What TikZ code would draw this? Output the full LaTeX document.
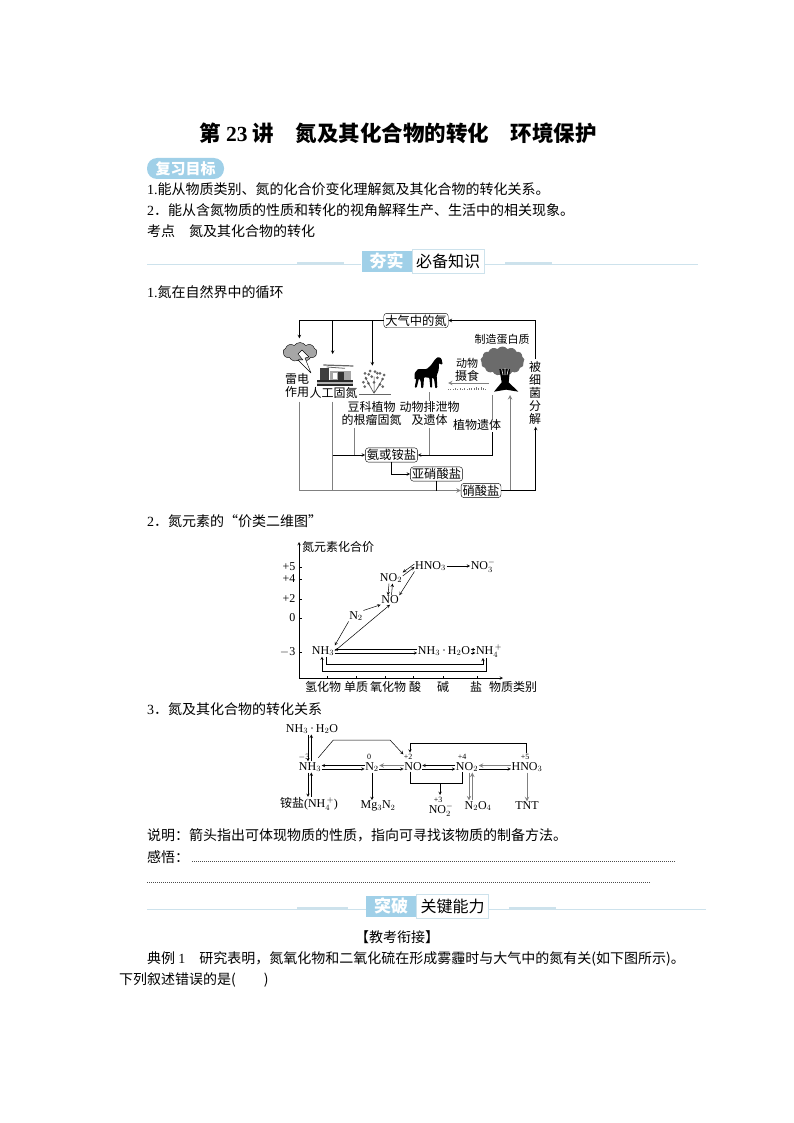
\documentclass[tikz,border=0pt]{standalone}
\usepackage{fontspec}
\setmainfont{Liberation Serif}
\newfontfamily\cjk{Noto Sans CJK SC}
\newfontfamily\lat{Liberation Serif}
\usetikzlibrary{arrows,positioning,calc,shapes.symbols}
\definecolor{bannerblue}{RGB}{160,208,232}
\definecolor{rulecolor}{RGB}{205,226,236}
\tikzset{
  >=stealth,
  body/.style    = {anchor=west, inner sep=0pt, font=\cjk\fontsize{14}{16}\selectfont},
  post/.style    = {->, semithick},
  react/.style   = {->, line width=0.5pt},
  wire/.style    = {semithick},
  graywire/.style= {draw=black!50, line width=1pt},
  label/.style   = {inner sep=0pt, align=center, font=\cjk\fontsize{12}{13}\selectfont},
  saltbox/.style = {draw, rounded corners=3pt, fill=white, inner sep=1.5pt, font=\cjk\fontsize{12.3}{14}\selectfont},
  chem/.style    = {inner sep=0.5pt, font=\lat\fontsize{12}{14}\selectfont},
  oxi/.style     = {inner sep=0pt, font=\lat\fontsize{8}{8}\selectfont},
  axislabel/.style = {inner sep=0pt, font=\cjk\fontsize{12}{14}\selectfont},
  bannerl/.style = {fill=bannerblue, text=white, inner sep=0pt, minimum width=50pt, minimum height=21pt, font=\cjk\bfseries\fontsize{17}{18}\selectfont},
  bannerr/.style = {draw=rulecolor, fill=white, inner sep=0pt, minimum width=72pt, minimum height=24pt, font=\cjk\fontsize{16}{18}\selectfont},
  rule/.style    = {draw=rulecolor, line width=0.7pt},
  rulethick/.style = {draw=rulecolor, line width=1.2pt},
  answerline/.style = {draw=black!70, line width=0.4pt, dash pattern=on 1pt off 1pt},
  detour/.style  = {to path={-- ++(0,#1) -| (\tikztotarget)}}
}
\begin{document}
\begin{tikzpicture}[x=1pt,y=-1pt]
  \useasboundingbox (0,0) rectangle (794,1123);

  % heading and first lines
  \node[inner sep=0pt, font=\cjk\bfseries\fontsize{21.5}{24}\selectfont] (title) at (398,133)
    {第\hspace{5pt}{\lat 23}\hspace{5pt}讲　氮及其化合物的转化　环境保护};
  \node[fill=bannerblue, text=white, rounded corners=10pt, minimum width=77pt, minimum height=21pt, inner sep=0pt, font=\cjk\bfseries\fontsize{15}{16}\selectfont] (goal) at (185.5,168.5) {复习目标};
  \node[body] (line1) at (147,189) {{\lat 1.}能从物质类别、氮的化合价变化理解氮及其化合物的转化关系。};
  \node[body] (line2) at (147,210) {{\lat 2}．能从含氮物质的性质和转化的视角解释生产、生活中的相关现象。};
  \node[body] (line3) at (147,231) {考点　氮及其化合物的转化};

  \node[bannerr] (knowr) at (448,261) {必备知识};
  \node[bannerl, left=0pt of knowr] (knowl) {夯实};
  \coordinate (knowa) at (147,264);
  \coordinate (knowb) at (698,264);
  \coordinate (knowc) at (297,263);
  \coordinate (knowd) at (552,263);
  \coordinate (knowe) at (344,263);
  \coordinate (knowf) at (505,263);
  \draw[rule] (knowa) -- (knowa -| knowl.west);
  \draw[rule] (knowb) -- (knowb -| knowr.east);
  \draw[rulethick] (knowc) -- (knowe);
  \draw[rulethick] (knowf) -- (knowd);

  \node[body] (head1) at (147,292) {{\lat 1.}氮在自然界中的循环};

  % nitrogen cycle
  \node[saltbox] (air)      at (416,320.5) {大气中的氮};
  \node[saltbox] (ammonium) at (391.5,455) {氨或铵盐};
  \node[saltbox] (nitrite)  at (436.5,474) {亚硝酸盐};
  \node[saltbox] (nitrate)  at (481,490.5) {硝酸盐};

  \node[label] (lei)     at (297,385)   {雷电\\作用};
  \node[label] (fix)     at (333.5,393) {人工固氮};
  \node[label] (bean)    at (371.5,413.5) {豆科植物\\的根瘤固氮};
  \node[label] (waste)   at (429.5,413.5) {动物排泄物\\及遗体};
  \node[label] (remain)  at (477,425)   {植物遗体};
  \node[label] (protein) at (502,339) {\fontsize{11}{12}\selectfont 制造蛋白质};
  \node[label] (eat)     at (467,370) {\fontsize{11}{14}\selectfont 动物\\摄食};
  \node[label] (decay)   at (535,393) {被\\细\\菌\\分\\解};

  \begin{scope}[shift={(270,305)},scale=1/3]
    \coordinate (leiin)   at (88,100);
    \coordinate (fixin)   at (188,147);
    \coordinate (beanin)  at (307,182);
    \coordinate (leifoot) at (88,290);
    \coordinate (fixfoot) at (188,290);
    \coordinate (beanfoot) at (252,370);
    \coordinate (horsefoot) at (477,262);
    \coordinate (wastefoot) at (477,368);
    \coordinate (treefoot) at (668,270);
    \coordinate (remainfoot) at (668,382);
    \coordinate (rootin)  at (720,270);
    \coordinate (decayin) at (797,365);
    \coordinate (decaytop) at (797,162);
  \end{scope}
  \coordinate (eatfrom) at (489,383);
  \coordinate (eatto)   at (448,383);

  \draw[post] (air.west) -| (leiin);
  \draw[post] (fixin |- air) -- (fixin);
  \draw[post] (beanin |- air) -- (beanin);
  \draw[post] (decaytop) |- (air.east);
  \draw[graywire, ->] (eatfrom) -- (eatto);
  \draw[graywire, ->] (leifoot) |- (nitrate.west);
  \draw[graywire] (fixfoot) -- (fixfoot |- nitrate.west);
  \draw[post] (fixfoot |- ammonium) -- (ammonium.west);
  \draw[graywire] (beanfoot) -- (beanfoot |- ammonium);
  \draw[graywire] (horsefoot) -- (horsefoot |- waste.north);
  \draw[graywire] (wastefoot) -- (wastefoot |- ammonium);
  \draw[graywire] (treefoot) -- (treefoot |- remain.north);
  \draw[post] (remainfoot) |- (ammonium.east);
  \draw[post] (ammonium.south) |- (nitrite.west);
  \draw[wire] (nitrite.south) -- (nitrite.south |- nitrate.west);
  \draw[graywire, ->] (nitrate.east) -| (rootin);
  \draw[post] (nitrate.east) -| (decayin);

  % cloud and bolt
  \node[cloud, cloud puffs=9, cloud puff arc=110, aspect=1.9, draw, fill=black!35, minimum width=34pt, minimum height=19pt, inner sep=0pt] (cloudicon) at (300,352) {};
  \draw[fill=white, line join=bevel] (302,350) -- (309,357) -- (305,358) -- (311,373) -- (298,360) -- (303,360) -- (298,354) -- cycle;

  % factory
  \begin{scope}[shift={(270,305)},scale=1/3]
    \fill[black!75] (150,190) rectangle (178,225);
    \fill[black!35] (180,198) rectangle (242,225);
    \fill[black!80] (205,200) rectangle (222,225);
    \fill[white] (190,205) rectangle (200,222);
    \draw[line width=1.2pt, black!60] (160,180) -- (250,183);
    \draw[line width=0.8pt, black!60] (170,186) -- (225,190);
    \fill[black!85] (140,224) rectangle (250,230);
    \fill[black!30] (140,230) rectangle (250,236);
    \fill[black!85] (140,236) rectangle (250,244);
  \end{scope}

  % plant
  \begin{scope}[shift={(270,305)},scale=1/3]
    \foreach \px/\py in {285/205,300/198,315/200,330/205,288/220,305/215,322/218,338/222,295/235,312/232,330/238,280/232,296/208,322/205,342/210,284/245,338/245}
      \fill[black!60] (\px,\py) circle (4.5pt);
    \draw[black!70, line width=0.5pt] (312,265) -- (295,235) (312,265) -- (312,215) (312,265) -- (330,238) (312,265) -- (285,215) (312,265) -- (338,222);
    \draw[black!60, line width=0.5pt] (268,268) -- (362,268);
  \end{scope}

  % horse
  \begin{scope}[shift={(410,345)},scale=1/3]
    \fill[black, rounded corners=0.8pt] (84,36) -- (94,40) -- (98,58) -- (91,58) -- (87,54) -- (86,76) -- (80,92) -- (82,128) -- (76,130) -- (72,102) -- (66,97) -- (66,128) -- (61,128) -- (58,98) -- (42,97) -- (40,128) -- (34,130) -- (32,108) -- (27,100) -- (20,128) -- (14,128) -- (19,100) -- (14,104) -- (14,84) -- (24,72) -- (50,72) -- (62,62) -- (76,42) -- cycle;
  \end{scope}

  % tree and grass
  \node[cloud, cloud puffs=13, cloud puff arc=110, aspect=1.5, fill=black!58, minimum width=44pt, minimum height=29pt, inner sep=0pt] (treetop) at (502.5,361) {};
  \begin{scope}[shift={(410,345)},scale=1/3]
    \fill[black] (268,72) -- (300,72) -- (296,112) -- (325,140) -- (288,134) -- (252,140) -- (275,112) -- cycle;
    \draw[white, line width=0.6pt] (275,72) -- (279,90) (285,70) -- (285,90) (295,72) -- (291,90);
    \foreach \gx/\gh in {115/2,122/3,129/2,136/4,143/2,150/4,157/3,164/5,171/3,178/5,185/6,192/4,199/7,206/5,213/7,220/4,227/3}
      \draw[black!55, line width=0.4pt] (\gx,134) -- ++(0,-\gh);
  \end{scope}

  \node[body] (head2) at (147,521) {{\lat 2}．氮元素的“价类二维图”};

  % valence chart
  \coordinate (origin) at (299,678);
  \coordinate (ytip)   at (299,542);
  \coordinate (xtip)   at (503,678);
  \draw[react] (origin) -- (ytip);
  \draw[react] (origin) -- (xtip);
  \node[axislabel, right=3pt of ytip, yshift=-5pt] (yname) {氮元素化合价};
  \foreach \val/\ypos/\nm in {+5/567/v5,+4/579/v4,+2/599/v2,0/618/v0,$-$3/652/vm} {
    \node[chem, anchor=east] (\nm) at (296,\ypos) {\val};
    \draw[line width=0.5pt] (299,\ypos) -- ++(3,0);
  }
  \foreach \xpos in {327.7,356.7,385.7,413.3,443.3,477.3}
    \draw[line width=0.5pt] (\xpos,678) -- ++(0,-2.5);
  \node[axislabel] (hyd)  at (323,686.5) {氢化物};
  \node[axislabel] (elem) at (356,686.5) {单质};
  \node[axislabel] (oxd)  at (388,686.5) {氧化物};
  \node[axislabel] (acid) at (415,686.5) {酸};
  \node[axislabel] (base) at (443,686.5) {碱};
  \node[axislabel] (salt) at (476,686.5) {盐};
  \node[axislabel] (kind) at (513,686.5) {物质类别};

  \node[chem] (hno)  at (430.5,566) {HNO$_3$};
  \node[chem] (noa)  at (483,566)   {NO$_3^-$};
  \node[chem] (ndo)  at (391,578)   {NO$_2$};
  \node[chem] (no)   at (390,600)   {NO};
  \node[chem] (nn)   at (356,616)   {N$_2$};
  \node[chem] (nh)   at (323,651)   {NH$_3$};
  \node[chem] (aq)   at (444,651)   {NH$_3$\,·\,H$_2$O};
  \node[chem] (nhf)  at (489,651)   {NH$_4^{\,+}$};

  \draw[react] (hno.east) -- (noa.west);
  \draw[react] ([yshift=-3.5pt]ndo.north east) -- ([yshift=-1pt]hno.west);
  \draw[react] ([yshift=2pt]hno.west) -- (ndo.north east);
  \draw[react] (hno.south west) -- (no.north east);
  \draw[react] ([xshift=-2pt]ndo.south) -- ([xshift=-2pt]no.north);
  \draw[react] ([xshift=1.5pt]no.north) -- ([xshift=1.5pt]ndo.south);
  \draw[react] (nn.north east) -- (no.south west);
  \draw[react] (nn.south west) -- (nh.north east);
  \draw[react] (nh.east) -- (no.south);
  \draw[react] ([yshift=-2pt]nh.east) -- ([yshift=-2pt]aq.west);
  \draw[react] ([yshift=1.5pt]aq.west) -- ([yshift=1.5pt]nh.east);
  \draw[react] ([yshift=-2pt]aq.east) -- ([yshift=-2pt]nhf.west);
  \draw[react] ([yshift=1.5pt]nhf.west) -- ([yshift=1.5pt]aq.east);
  \draw[react] ([xshift=3.5pt]nh.south) to[detour=8] ([xshift=-6pt]nhf.south);
  \draw[react] ([xshift=-2.5pt]nhf.south) to[detour=13] ([xshift=-1pt]nh.south);

  \node[body] (head3) at (147,709) {{\lat 3}．氮及其化合物的转化关系};

  % compound relations
  \node[chem] (water) at (312,729) {NH$_3$\,·\,H$_2$O};
  \node[chem] (nha)   at (310,767) {NH$_3$};
  \node[chem] (nb)    at (372,767) {N$_2$};
  \node[chem] (noc)   at (413,767) {NO};
  \node[chem] (nod)   at (467,767) {NO$_2$};
  \node[chem] (hnoe)  at (527,767) {HNO$_3$};
  \node[chem] (ammon) at (309,804) {{\cjk\fontsize{12}{14}\selectfont 铵盐}(NH$_4^{\,+}$)};
  \node[chem] (mg)    at (378,806) {Mg$_3$N$_2$};
  \node[chem] (nof)   at (441,810) {NO$_2^-$};
  \node[chem] (ntet)  at (478,806) {N$_2$O$_4$};
  \node[chem] (tnt)   at (527,806) {TNT};

  \node[oxi] (oxa) at (304,757) {$-$3};
  \node[oxi] (oxb) at (369,757) {0};
  \node[oxi] (oxc) at (408,757) {+2};
  \node[oxi] (oxd) at (462,757) {+4};
  \node[oxi] (oxe) at (525,757) {+5};
  \node[oxi] (oxf) at (438,800) {+3};

  \begin{scope}[shift={(270,715)},scale=1/3]
    \coordinate (benda) at (190,75);
    \coordinate (bendb) at (360,75);
    \coordinate (forka) at (420,205);
    \coordinate (forkb) at (577,205);
    \coordinate (forkc) at (510,205);
    \coordinate (forkd) at (510,240);
    \coordinate (nhaout) at (145,128);
    \coordinate (nocin) at (400,118);
    \coordinate (hnotop) at (768,115);
    \coordinate (nocup) at (420,113);
    \coordinate (nolow) at (420,170);
    \coordinate (ndlow) at (577,170);
    \coordinate (roofa) at (768,85);
  \end{scope}

  \draw[react] ([xshift=-2pt]nha.north |- water.south) -- ([xshift=-2pt]nha.north);
  \draw[react] ([xshift=1.3pt]nha.north) -- ([xshift=1.3pt]nha.north |- water.south);
  \draw[react] ([xshift=-2pt]nha.south) -- ([xshift=-2pt]nha.south |- ammon.north);
  \draw[react] ([xshift=1.3pt]nha.south |- ammon.north) -- ([xshift=1.3pt]nha.south);
  \draw[react] ([yshift=-2pt]nha.east) -- ([yshift=-2pt]nb.west);
  \draw[react] ([yshift=1.5pt]nb.west) -- ([yshift=1.5pt]nha.east);
  \draw[react] ([yshift=-2pt]nb.east) -- ([yshift=-2pt]noc.west);
  \draw[graywire, ->] ([yshift=1.5pt]noc.west) -- ([yshift=1.5pt]nb.east);
  \draw[react] ([yshift=-2pt]noc.east) -- ([yshift=-2pt]nod.west);
  \draw[react] ([yshift=1.5pt]nod.west) -- ([yshift=1.5pt]noc.east);
  \draw[react] ([yshift=-2pt]nod.east) -- ([yshift=-2pt]hnoe.west);
  \draw[graywire, ->] ([yshift=1.5pt]hnoe.west) -- ([yshift=1.5pt]nod.east);
  \draw[react] (nhaout) -- (benda) -- (bendb) -- (nocin);
  \draw[react] (hnotop) |- (roofa -| nocup) -- (nocup);
  \draw[react] (nb.south) -- (nb.south |- mg.north);
  \draw[line width=0.5pt] (nolow) |- (forka) -- (forkb) -- (ndlow);
  \draw[react] (forkc) -- (forkd);
  \draw[graywire, ->] ([xshift=2pt]nod.south) -- ([xshift=2pt]nod.south |- ntet.north);
  \draw[graywire, ->] ([xshift=5.3pt]nod.south |- ntet.north) -- ([xshift=5.3pt]nod.south);
  \draw[graywire, ->] (hnoe.south) -- (tnt.north);

  % closing lines
  \node[body] (note) at (147,835) {说明：箭头指出可体现物质的性质，指向可寻找该物质的制备方法。};
  \node[body] (feel) at (147,857) {感悟：};
  \coordinate (dasha) at (192,861);
  \coordinate (dashb) at (675,861);
  \coordinate (dashc) at (147,882);
  \coordinate (dashd) at (651,882);
  \draw[answerline] (dasha) -- (dashb);
  \draw[answerline] (dashc) -- (dashd);

  \node[bannerr] (skillr) at (452.5,906) {关键能力};
  \node[bannerl, left=0pt of skillr] (skilll) {突破};
  \coordinate (skilla) at (147,909);
  \coordinate (skillb) at (706,909);
  \coordinate (skillc) at (297,908);
  \coordinate (skilld) at (556,908);
  \coordinate (skille) at (348,908);
  \coordinate (skillf) at (509,908);
  \draw[rule] (skilla) -- (skilla -| skilll.west);
  \draw[rule] (skillb) -- (skillb -| skillr.east);
  \draw[rulethick] (skillc) -- (skille);
  \draw[rulethick] (skillf) -- (skilld);

  \node[body, anchor=center] (link) at (397,937) {【教考衔接】};
  \node[body] (exa) at (147,959) {典例 {\lat 1}　研究表明，氮氧化物和二氧化硫在形成雾霾时与大气中的氮有关(如下图所示)。};
  \node[body] (exb) at (119,980) {下列叙述错误的是(　　)};
\end{tikzpicture}
\end{document}
